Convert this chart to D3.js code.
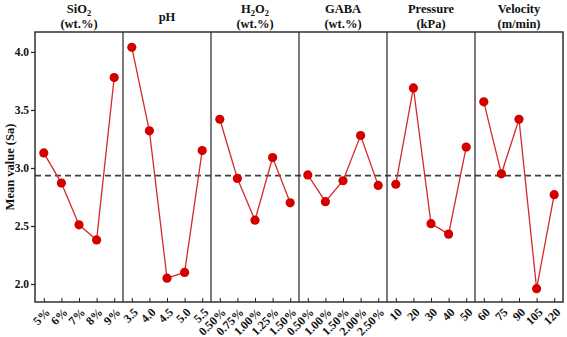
<!DOCTYPE html>
<html><head><meta charset="utf-8">
<script src="https://cdn.jsdelivr.net/npm/d3@7"></script>
<style>body{margin:0;background:#fff}svg{display:block}text{font-family:"Liberation Serif","Times New Roman",serif;font-weight:bold}</style>
</head><body>
<svg id="c" width="567" height="337"></svg>
<script>
const factors = ["SiO2","pH","H2O2","GABA","Pressure","Velocity"];
const titleLine1 = [["SiO",["2"]],["pH"],["H",["2"],"O",["2"]],["GABA"],["Pressure"],["Velocity"]];
const titleLine2 = ["(wt.%)","","(wt.%)","(wt.%)","(kPa)","(m/min)"];
const levelsSiO2 = ["5%","6%","7%","8%","9%"];
const levelsPH = ["3.5","4.0","4.5","5.0","5.5"];
const levelsH2O2 = ["0.50%","0.75%","1.00%","1.25%","1.50%"];
const levelsGABA = ["0.50%","1.00%","1.50%","2.00%","2.50%"];
const levelsPressure = ["10","20","30","40","50"];
const levelsVelocity = ["60","75","90","105","120"];
const valuesSiO2 = [3.13,2.87,2.51,2.38,3.78];
const valuesPH = [4.04,3.32,2.05,2.10,3.15];
const valuesH2O2 = [3.42,2.91,2.55,3.09,2.70];
const valuesGABA = [2.94,2.71,2.89,3.28,2.85];
const valuesPressure = [2.86,3.69,2.52,2.43,3.18];
const valuesVelocity = [3.57,2.95,3.42,1.96,2.77];
const meanValue = 2.934;
const yTicks = [2.0,2.5,3.0,3.5,4.0];

const levels = [levelsSiO2,levelsPH,levelsH2O2,levelsGABA,levelsPressure,levelsVelocity];
const values = [valuesSiO2,valuesPH,valuesH2O2,valuesGABA,valuesPressure,valuesVelocity];

const svg = d3.select("#c");
const L=35, R=563, T=32, B=302;
const pw = (R-L)/factors.length;
const y = d3.scaleLinear().domain([1.845,4.172]).range([B,T]);
const panelX = d3.scaleBand().domain(factors).range([L,R]);

const red="#d40000", lineRed="#d42a2a", ink="#111";

svg.append("line").attr("x1",L).attr("x2",R).attr("y1",y(meanValue)).attr("y2",y(meanValue))
  .attr("stroke","#404040").attr("stroke-width",1.6).attr("stroke-dasharray","6,4");

factors.forEach((f,i)=>{
  const x0 = panelX(f);
  const x = d3.scalePoint().domain(levels[i]).range([x0,x0+pw]).padding(0.5);
  const g = svg.append("g");
  const ax = g.append("g").attr("transform",`translate(0,${B})`)
    .call(d3.axisBottom(x).tickSize(-4).tickSizeOuter(0).tickFormat(""));
  ax.select(".domain").remove();
  ax.selectAll("line").attr("stroke","#222").attr("stroke-width",1);
  g.selectAll("text.xl").data(levels[i]).enter().append("text").attr("class","xl")
    .attr("transform",d=>`translate(${x(d)+4},${B+8}) rotate(-45)`)
    .attr("text-anchor","end").attr("dy","0.35em").attr("font-size",12).attr("fill",ink).text(d=>d);
  const line = d3.line().x((d,j)=>x(levels[i][j])).y(d=>y(d));
  g.append("path").datum(values[i]).attr("d",line).attr("fill","none").attr("stroke",lineRed).attr("stroke-width",1.3);
  g.selectAll("circle").data(values[i]).enter().append("circle")
    .attr("cx",(d,j)=>x(levels[i][j])).attr("cy",d=>y(d)).attr("r",4.6).attr("fill",red);
  const cx = x0+pw/2;
  const t1 = svg.append("text").attr("x",cx).attr("text-anchor","middle").attr("font-size",12.5).attr("fill",ink);
  if(titleLine2[i]===""){
    t1.attr("y",21);
  } else {
    t1.attr("y",13);
    svg.append("text").attr("x",cx).attr("y",28).attr("text-anchor","middle").attr("font-size",12.5).attr("fill",ink).text(titleLine2[i]);
  }
  let prevSub=false;
  titleLine1[i].forEach(p=>{
    if(Array.isArray(p)){ t1.append("tspan").attr("font-size",8.5).attr("dy",2.5).text(p[0]); prevSub=true; }
    else { const s=t1.append("tspan").text(p); if(prevSub) s.attr("dy",-2.5); prevSub=false; }
  });
  if(i>0) svg.append("line").attr("x1",x0).attr("x2",x0).attr("y1",T).attr("y2",B).attr("stroke","#222").attr("stroke-width",1.2);
});

svg.append("rect").attr("x",L).attr("y",T).attr("width",R-L).attr("height",B-T).attr("fill","none").attr("stroke","#222").attr("stroke-width",1.4);

const ay = svg.append("g").attr("transform",`translate(${L},0)`).call(d3.axisLeft(y).tickValues(yTicks).tickFormat(d3.format(".1f")).tickSize(4).tickSizeOuter(0));
ay.select(".domain").remove();
ay.selectAll("line").attr("stroke","#222").attr("stroke-width",1.2);
ay.selectAll("text").attr("font-size",11.5).attr("fill",ink).attr("font-family","Liberation Serif").attr("font-weight","bold").attr("x",-6);

svg.append("text").attr("transform",`translate(10,${(T+B)/2}) rotate(-90)`).attr("text-anchor","middle").attr("dy","0.35em")
  .attr("font-size",12.5).attr("fill",ink).text("Mean value (Sa)");
</script>
</body></html>
